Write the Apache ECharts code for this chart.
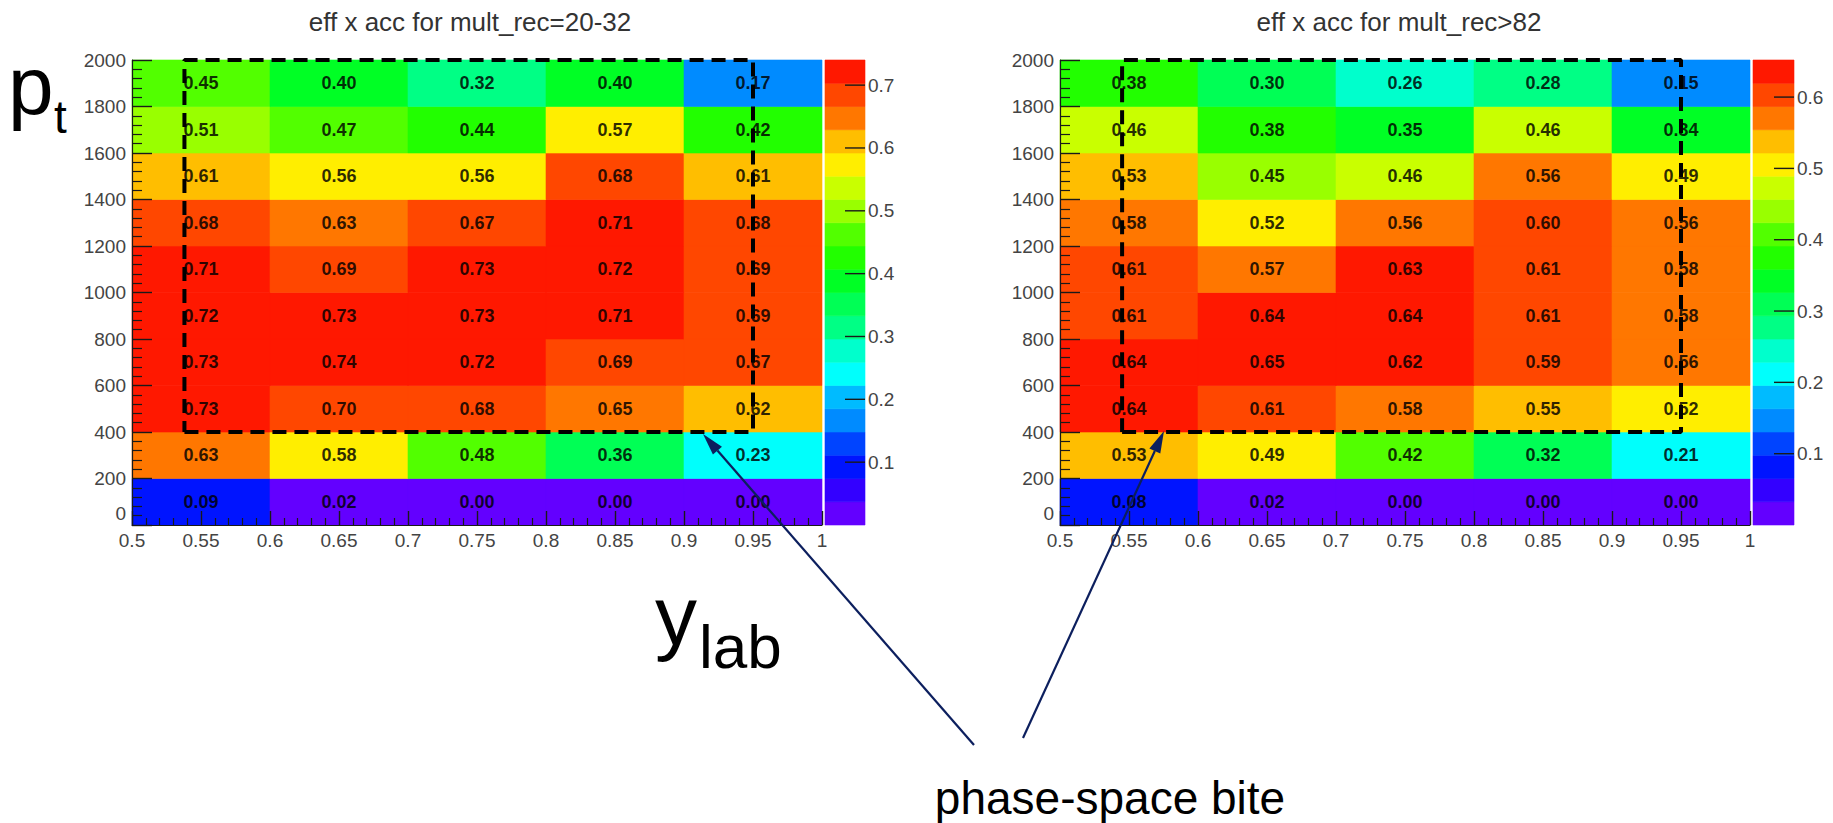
<!DOCTYPE html>
<html>
<head>
<meta charset="utf-8">
<script src="https://cdn.jsdelivr.net/npm/echarts@6/dist/echarts.min.js"></script>
<style>
html,body{margin:0;padding:0;background:#fff;}
#chart{width:1833px;height:823px;}
</style>
</head>
<body>
<div id="chart"></div>
<script>
// ---------------- data ----------------
const yLabBinLow = [0.5, 0.6, 0.7, 0.8, 0.9];          // y_lab bins (width 0.1)
const ptBinLow = [0, 200, 400, 600, 800, 1000, 1200, 1400, 1600, 1800]; // pt bins (width 200)
const X_BIN = 0.1, Y_BIN = 200;

// rows from pt = 0-200 (bottom) to 1800-2000 (top); columns y_lab 0.5..1.0
const effLow = [
  [0.09, 0.02, 0.00, 0.00, 0.00],
  [0.63, 0.58, 0.48, 0.36, 0.23],
  [0.73, 0.70, 0.68, 0.65, 0.62],
  [0.73, 0.74, 0.72, 0.69, 0.67],
  [0.72, 0.73, 0.73, 0.71, 0.69],
  [0.71, 0.69, 0.73, 0.72, 0.69],
  [0.68, 0.63, 0.67, 0.71, 0.68],
  [0.61, 0.56, 0.56, 0.68, 0.61],
  [0.51, 0.47, 0.44, 0.57, 0.42],
  [0.45, 0.40, 0.32, 0.40, 0.17]
];
const effHigh = [
  [0.08, 0.02, 0.00, 0.00, 0.00],
  [0.53, 0.49, 0.42, 0.32, 0.21],
  [0.64, 0.61, 0.58, 0.55, 0.52],
  [0.64, 0.65, 0.62, 0.59, 0.56],
  [0.61, 0.64, 0.64, 0.61, 0.58],
  [0.61, 0.57, 0.63, 0.61, 0.58],
  [0.58, 0.52, 0.56, 0.60, 0.56],
  [0.53, 0.45, 0.46, 0.56, 0.49],
  [0.46, 0.38, 0.35, 0.46, 0.34],
  [0.38, 0.30, 0.26, 0.28, 0.15]
];
const zMaxLow = 0.74, zMaxHigh = 0.652;

const titles = ['eff x acc for mult_rec=20-32', 'eff x acc for mult_rec>82'];
const colorbarTicksLow = [0.1, 0.2, 0.3, 0.4, 0.5, 0.6, 0.7];
const colorbarTicksHigh = [0.1, 0.2, 0.3, 0.4, 0.5, 0.6];

// phase-space bite boxes [yLabMin, yLabMax, ptMin, ptMax]
const boxLow = [0.538, 0.95, 400, 2000];
const boxHigh = [0.545, 0.95, 400, 2000];

// ROOT "pretty" palette, 20 contour levels
const PALETTE = ['#6300ff','#3300ff','#0014ff','#0044ff','#008bff','#00bbff','#00fffc','#00ffcc',
  '#00ff85','#00ff55','#00ff25','#22ff00','#52ff00','#99ff00','#c9ff00','#ffee00','#ffbe00',
  '#ff7700','#ff4700','#ff1800'];
const NLEV = PALETTE.length;

// ---------------- helpers ----------------
const FONT = 'Liberation Sans, Arial, Helvetica, sans-serif';

function cellData(rows) {
  const out = [];
  rows.forEach((row, i) => row.forEach((v, j) => out.push([yLabBinLow[j], ptBinLow[i], v])));
  return out;
}
function band(v, zmax) {
  let k = Math.floor(v / zmax * NLEV);
  return Math.max(0, Math.min(NLEV - 1, k));
}
function cellRenderer(zmax) {
  return function (params, api) {
    const x0 = api.value(0), y0 = api.value(1), v = api.value(2);
    const p0 = api.coord([x0, y0]);
    const p1 = api.coord([x0 + X_BIN, y0 + Y_BIN]);
    const col = PALETTE[band(v, zmax)];
    return {
      type: 'group',
      children: [
        { type: 'rect', shape: { x: p0[0], y: p1[1], width: p1[0] - p0[0], height: p0[1] - p1[1] },
          style: { fill: col, stroke: col, lineWidth: 0.6 } },
        { type: 'text', style: { text: v.toFixed(2), x: (p0[0] + p1[0]) / 2, y: (p0[1] + p1[1]) / 2,
          align: 'center', verticalAlign: 'middle', font: 'bold 18px ' + FONT, fill: 'rgba(0,0,0,0.82)' } }
      ]
    };
  };
}
function bandData(zmax) {
  const out = [];
  for (let k = 0; k < NLEV; k++) out.push([k, k * zmax / NLEV, (k + 1) * zmax / NLEV]);
  return out;
}
function bandRender(params, api) {
  const k = api.value(0);
  const p0 = api.coord([0, api.value(1)]);
  const p1 = api.coord([1, api.value(2)]);
  return { type: 'rect', shape: { x: p0[0], y: p1[1], width: p1[0] - p0[0], height: p0[1] - p1[1] },
    style: { fill: PALETTE[k], stroke: PALETTE[k], lineWidth: 0.6 } };
}
function tickRender(params, api) {
  const p = api.coord([1, api.value(0)]);
  return { type: 'line', shape: { x1: p[0] - 20, y1: p[1], x2: p[0], y2: p[1] },
    style: { stroke: '#1a1a1a', lineWidth: 1.4 } };
}
function boxLine(b) {
  return [[b[0], b[2]], [b[1], b[2]], [b[1], b[3]], [b[0], b[3]], [b[0], b[2]]];
}

const grids = [
  { left: 132, top: 60, width: 690, height: 465 },
  { left: 825, top: 60, width: 40, height: 465 },
  { left: 1060, top: 60, width: 690, height: 465 },
  { left: 1753, top: 60, width: 41, height: 465 }
];

function mainX(gi) {
  return { type: 'value', gridIndex: gi, min: 0.5, max: 1, interval: 0.05, z: 5,
    axisLine: { show: true, onZero: false, lineStyle: { color: '#1a1a1a', width: 1.2 } },
    axisTick: { inside: true, length: 14, lineStyle: { color: '#1a1a1a', width: 1.4 } },
    minorTick: { show: true, splitNumber: 5, length: 7, lineStyle: { color: '#1a1a1a', width: 1.2 } },
    splitLine: { show: false },
    axisLabel: { fontSize: 19, color: '#444', margin: 6, fontFamily: FONT,
      formatter: v => String(+v.toFixed(2)) } };
}
function mainY(gi) {
  return { type: 'value', gridIndex: gi, min: 0, max: 2000, interval: 200, z: 5,
    axisLine: { show: true, onZero: false, lineStyle: { color: '#1a1a1a', width: 1.2 } },
    axisTick: { inside: true, length: 20, lineStyle: { color: '#1a1a1a', width: 1.4 } },
    minorTick: { show: true, splitNumber: 5, length: 10, lineStyle: { color: '#1a1a1a', width: 1.2 } },
    splitLine: { show: false },
    axisLabel: { fontSize: 19, color: '#444', margin: 6, fontFamily: FONT,
      formatter: v => (v === 0 ? '{z|0}' : String(v)),
      rich: { z: { fontSize: 19, color: '#444', fontFamily: FONT, padding: [0, 0, 24, 0] } } } };
}
function cbX(gi) {
  return { type: 'value', gridIndex: gi, min: 0, max: 1, show: false };
}
function cbY(gi, zmax, ticks) {
  return { type: 'value', gridIndex: gi, min: 0, max: zmax, position: 'right', z: 5,
    axisLine: { show: false },
    axisTick: { show: false },
    axisLabel: { fontSize: 19, color: '#444', margin: 3, fontFamily: FONT, customValues: ticks,
      formatter: v => v.toFixed(1) },
    splitLine: { show: false } };
}

const NAVY = '#0c1f5e';
function arrow(x1, y1, x2, y2) {
  const dx = x2 - x1, dy = y2 - y1, L = Math.hypot(dx, dy);
  const ux = dx / L, uy = dy / L, hl = 22, hw = 6;
  const bx = x2 - ux * hl, by = y2 - uy * hl;
  return [
    { type: 'line', shape: { x1: x1, y1: y1, x2: bx, y2: by }, style: { stroke: NAVY, lineWidth: 2.2 } },
    { type: 'polygon', shape: { points: [[x2, y2], [bx - uy * hw, by + ux * hw], [bx + uy * hw, by - ux * hw]] },
      style: { fill: NAVY } }
  ];
}

const option = {
  animation: false,
  backgroundColor: '#fff',
  textStyle: { fontFamily: FONT },
  grid: grids,
  xAxis: [mainX(0), cbX(1), mainX(2), cbX(3)],
  yAxis: [mainY(0), cbY(1, zMaxLow, colorbarTicksLow), mainY(2), cbY(3, zMaxHigh, colorbarTicksHigh)],
  series: [
    { type: 'custom', xAxisIndex: 0, yAxisIndex: 0, z: 1, renderItem: cellRenderer(zMaxLow),
      data: cellData(effLow), encode: { x: 0, y: 1 }, clip: false },
    { type: 'custom', xAxisIndex: 1, yAxisIndex: 1, z: 1, renderItem: bandRender,
      data: bandData(zMaxLow), encode: { x: [], y: [1, 2] } },
    { type: 'custom', xAxisIndex: 1, yAxisIndex: 1, z: 3, renderItem: tickRender,
      data: colorbarTicksLow.map(v => [v]), encode: { x: [], y: 0 }, clip: false },
    { type: 'custom', xAxisIndex: 2, yAxisIndex: 2, z: 1, renderItem: cellRenderer(zMaxHigh),
      data: cellData(effHigh), encode: { x: 0, y: 1 }, clip: false },
    { type: 'custom', xAxisIndex: 3, yAxisIndex: 3, z: 1, renderItem: bandRender,
      data: bandData(zMaxHigh), encode: { x: [], y: [1, 2] } },
    { type: 'custom', xAxisIndex: 3, yAxisIndex: 3, z: 3, renderItem: tickRender,
      data: colorbarTicksHigh.map(v => [v]), encode: { x: [], y: 0 }, clip: false },
    { type: 'line', xAxisIndex: 0, yAxisIndex: 0, z: 8, data: boxLine(boxLow), symbol: 'none', clip: false,
      lineStyle: { color: '#000', width: 4, type: [14, 8] } },
    { type: 'line', xAxisIndex: 2, yAxisIndex: 2, z: 8, data: boxLine(boxHigh), symbol: 'none', clip: false,
      lineStyle: { color: '#000', width: 4, type: [14, 8] } }
  ],
  graphic: [
    { type: 'text', x: 470, y: 22, style: { text: titles[0], font: '26px ' + FONT, fill: '#333', align: 'center', verticalAlign: 'middle' } },
    { type: 'text', x: 1399, y: 22, style: { text: titles[1], font: '26px ' + FONT, fill: '#333', align: 'center', verticalAlign: 'middle' } },
    { type: 'text', x: 8, y: 85, style: { text: 'p', font: '82px ' + FONT, fill: '#000', align: 'left', verticalAlign: 'middle' } },
    { type: 'text', x: 54, y: 117, style: { text: 't', font: '46px ' + FONT, fill: '#000', align: 'left', verticalAlign: 'middle' } },
    { type: 'text', x: 655, y: 616, style: { text: 'y', font: '84px ' + FONT, fill: '#000', align: 'left', verticalAlign: 'middle' } },
    { type: 'text', x: 699, y: 646, style: { text: 'lab', font: '62px ' + FONT, fill: '#000', align: 'left', verticalAlign: 'middle' } },
    { type: 'text', x: 1110, y: 798, style: { text: 'phase-space bite', font: '46px ' + FONT, fill: '#000', align: 'center', verticalAlign: 'middle' } }
  ].concat(arrow(974, 745, 703, 434)).concat(arrow(1023, 738, 1164, 431)).map(e => Object.assign({ z: 100 }, e))
};

const chart = echarts.init(document.getElementById('chart'), null, { renderer: 'svg', width: 1833, height: 823 });
chart.setOption(option);
</script>
</body>
</html>
